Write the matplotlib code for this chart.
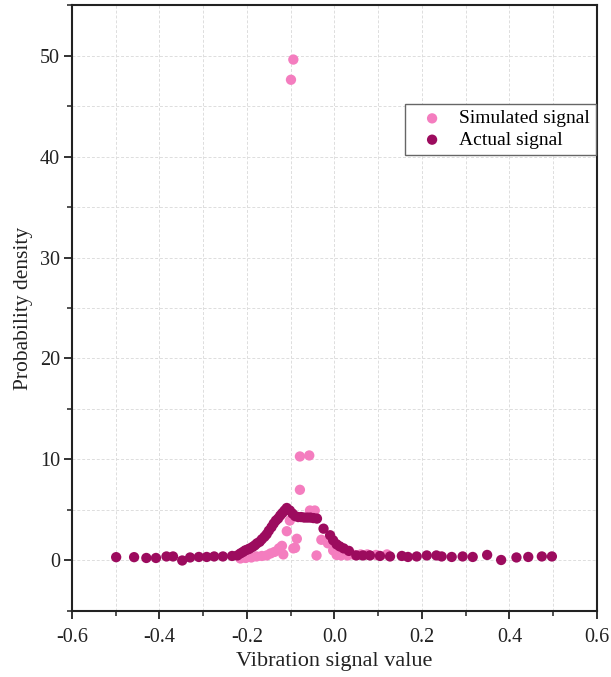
import matplotlib
matplotlib.use("Agg")
import matplotlib.pyplot as plt
from matplotlib.ticker import MultipleLocator

plt.rcParams['font.family'] = ['Liberation Serif', 'DejaVu Serif']

# Simulated signal (pink)
sim_x = [-0.215, -0.203, -0.190, -0.178, -0.166, -0.155, -0.146, -0.137, -0.127, -0.120,
         -0.117, -0.109, -0.102, -0.0994, -0.094, -0.094, -0.090, -0.086, -0.079, -0.079,
         -0.0576, -0.056, -0.045, -0.041, -0.030, -0.015, -0.010, -0.003, 0.005, 0.015,
         0.030, 0.045, 0.060, 0.075, 0.095, 0.120]
sim_y = [0.2, 0.25, 0.3, 0.4, 0.45, 0.5, 0.7, 0.85, 1.2, 1.45,
         0.6, 2.9, 3.95, 47.6, 49.6, 1.2, 1.25, 2.15, 10.3, 7.0,
         10.4, 4.95, 4.95, 0.5, 2.05, 1.7, 1.8, 1.0, 0.55, 0.5,
         0.5, 0.55, 0.6, 0.6, 0.55, 0.6]

# Actual signal (dark)
act_x = [-0.499, -0.458, -0.430, -0.408, -0.384, -0.369, -0.348, -0.330, -0.310, -0.292,
         -0.275, -0.255, -0.234, -0.222, -0.215, -0.209, -0.204, -0.198, -0.193, -0.187,
         -0.182, -0.177, -0.171, -0.166, -0.160, -0.155, -0.150, -0.144, -0.139, -0.134,
         -0.129, -0.124, -0.119, -0.114, -0.109, -0.102, -0.096, -0.090, -0.083, -0.076,
         -0.069, -0.062, -0.055, -0.048, -0.040, -0.025, -0.010, -0.003, 0.005, 0.012,
         0.021, 0.033, 0.050, 0.065, 0.081, 0.104, 0.127, 0.154, 0.168, 0.188,
         0.211, 0.233, 0.245, 0.268, 0.293, 0.316, 0.349, 0.381, 0.416, 0.443,
         0.474, 0.497]
act_y = [0.33, 0.33, 0.25, 0.25, 0.4, 0.4, 0.0, 0.3, 0.35, 0.35,
         0.4, 0.4, 0.45, 0.5, 0.7, 0.85, 1.0, 1.1, 1.2, 1.35,
         1.5, 1.7, 1.85, 2.1, 2.35, 2.6, 2.95, 3.3, 3.65, 3.95,
         4.15, 4.45, 4.7, 4.95, 5.2, 4.95, 4.65, 4.4, 4.3, 4.3,
         4.25, 4.25, 4.25, 4.2, 4.15, 3.15, 2.5, 2.0, 1.6, 1.4,
         1.2, 0.95, 0.5, 0.5, 0.5, 0.45, 0.4, 0.45, 0.35, 0.4,
         0.5, 0.5, 0.4, 0.35, 0.4, 0.35, 0.55, 0.05, 0.3, 0.35,
         0.4, 0.4]

x_ticks = [-0.6, -0.4, -0.2, 0.0, 0.2, 0.4, 0.6]
x_ticklabels = ['-0.6', '-0.4', '-0.2', '0.0', '0.2', '0.4', '0.6']
y_ticks = [0, 10, 20, 30, 40, 50]

fig = plt.figure(figsize=(6.11, 6.77), dpi=100)
ax = fig.add_axes([0.1178, 0.0975, 0.8592, 0.8951])

ax.scatter(sim_x, sim_y, s=55, color='#F47DBF', edgecolors='none', label='Simulated signal', zorder=3)
ax.scatter(act_x, act_y, s=55, color='#9C0B5E', edgecolors='none', label='Actual signal', zorder=4)

ax.set_xlim(-0.6, 0.6)
ax.set_ylim(-5, 55)
ax.set_xticks(x_ticks)
ax.set_xticklabels(x_ticklabels)
ax.set_yticks(y_ticks)
ax.xaxis.set_minor_locator(MultipleLocator(0.1))
ax.yaxis.set_minor_locator(MultipleLocator(5))

ax.grid(True, which='both', color='#DDDDDD', linestyle=(0, (3, 2)), linewidth=0.7, zorder=0)
ax.set_axisbelow(True)

ax.tick_params(which='major', direction='out', length=6, width=1.3, labelsize=14.5, colors='#222222')
ax.tick_params(axis='x', which='major', pad=6)
ax.tick_params(axis='y', which='major', pad=2.5)
ax.tick_params(which='minor', direction='out', length=3.5, width=1.1, colors='#222222')
for sp in ax.spines.values():
    sp.set_linewidth(1.5)
    sp.set_color('#222222')

ax.set_xlabel('Vibration signal value', fontsize=16, color='#222222', labelpad=4)
ax.set_ylabel('Probability density', fontsize=15.5, color='#222222', labelpad=5)

leg = ax.legend(loc='upper right', bbox_to_anchor=(0.998, 0.8366), borderaxespad=0,
                fontsize=14, frameon=True, fancybox=False, edgecolor='#666666', framealpha=1,
                handletextpad=0.3, borderpad=0.3, labelspacing=0.19, handlelength=2.2,
                markerscale=1.0)
leg.get_frame().set_linewidth(1.0)

fig.savefig('out.png', dpi=100)
